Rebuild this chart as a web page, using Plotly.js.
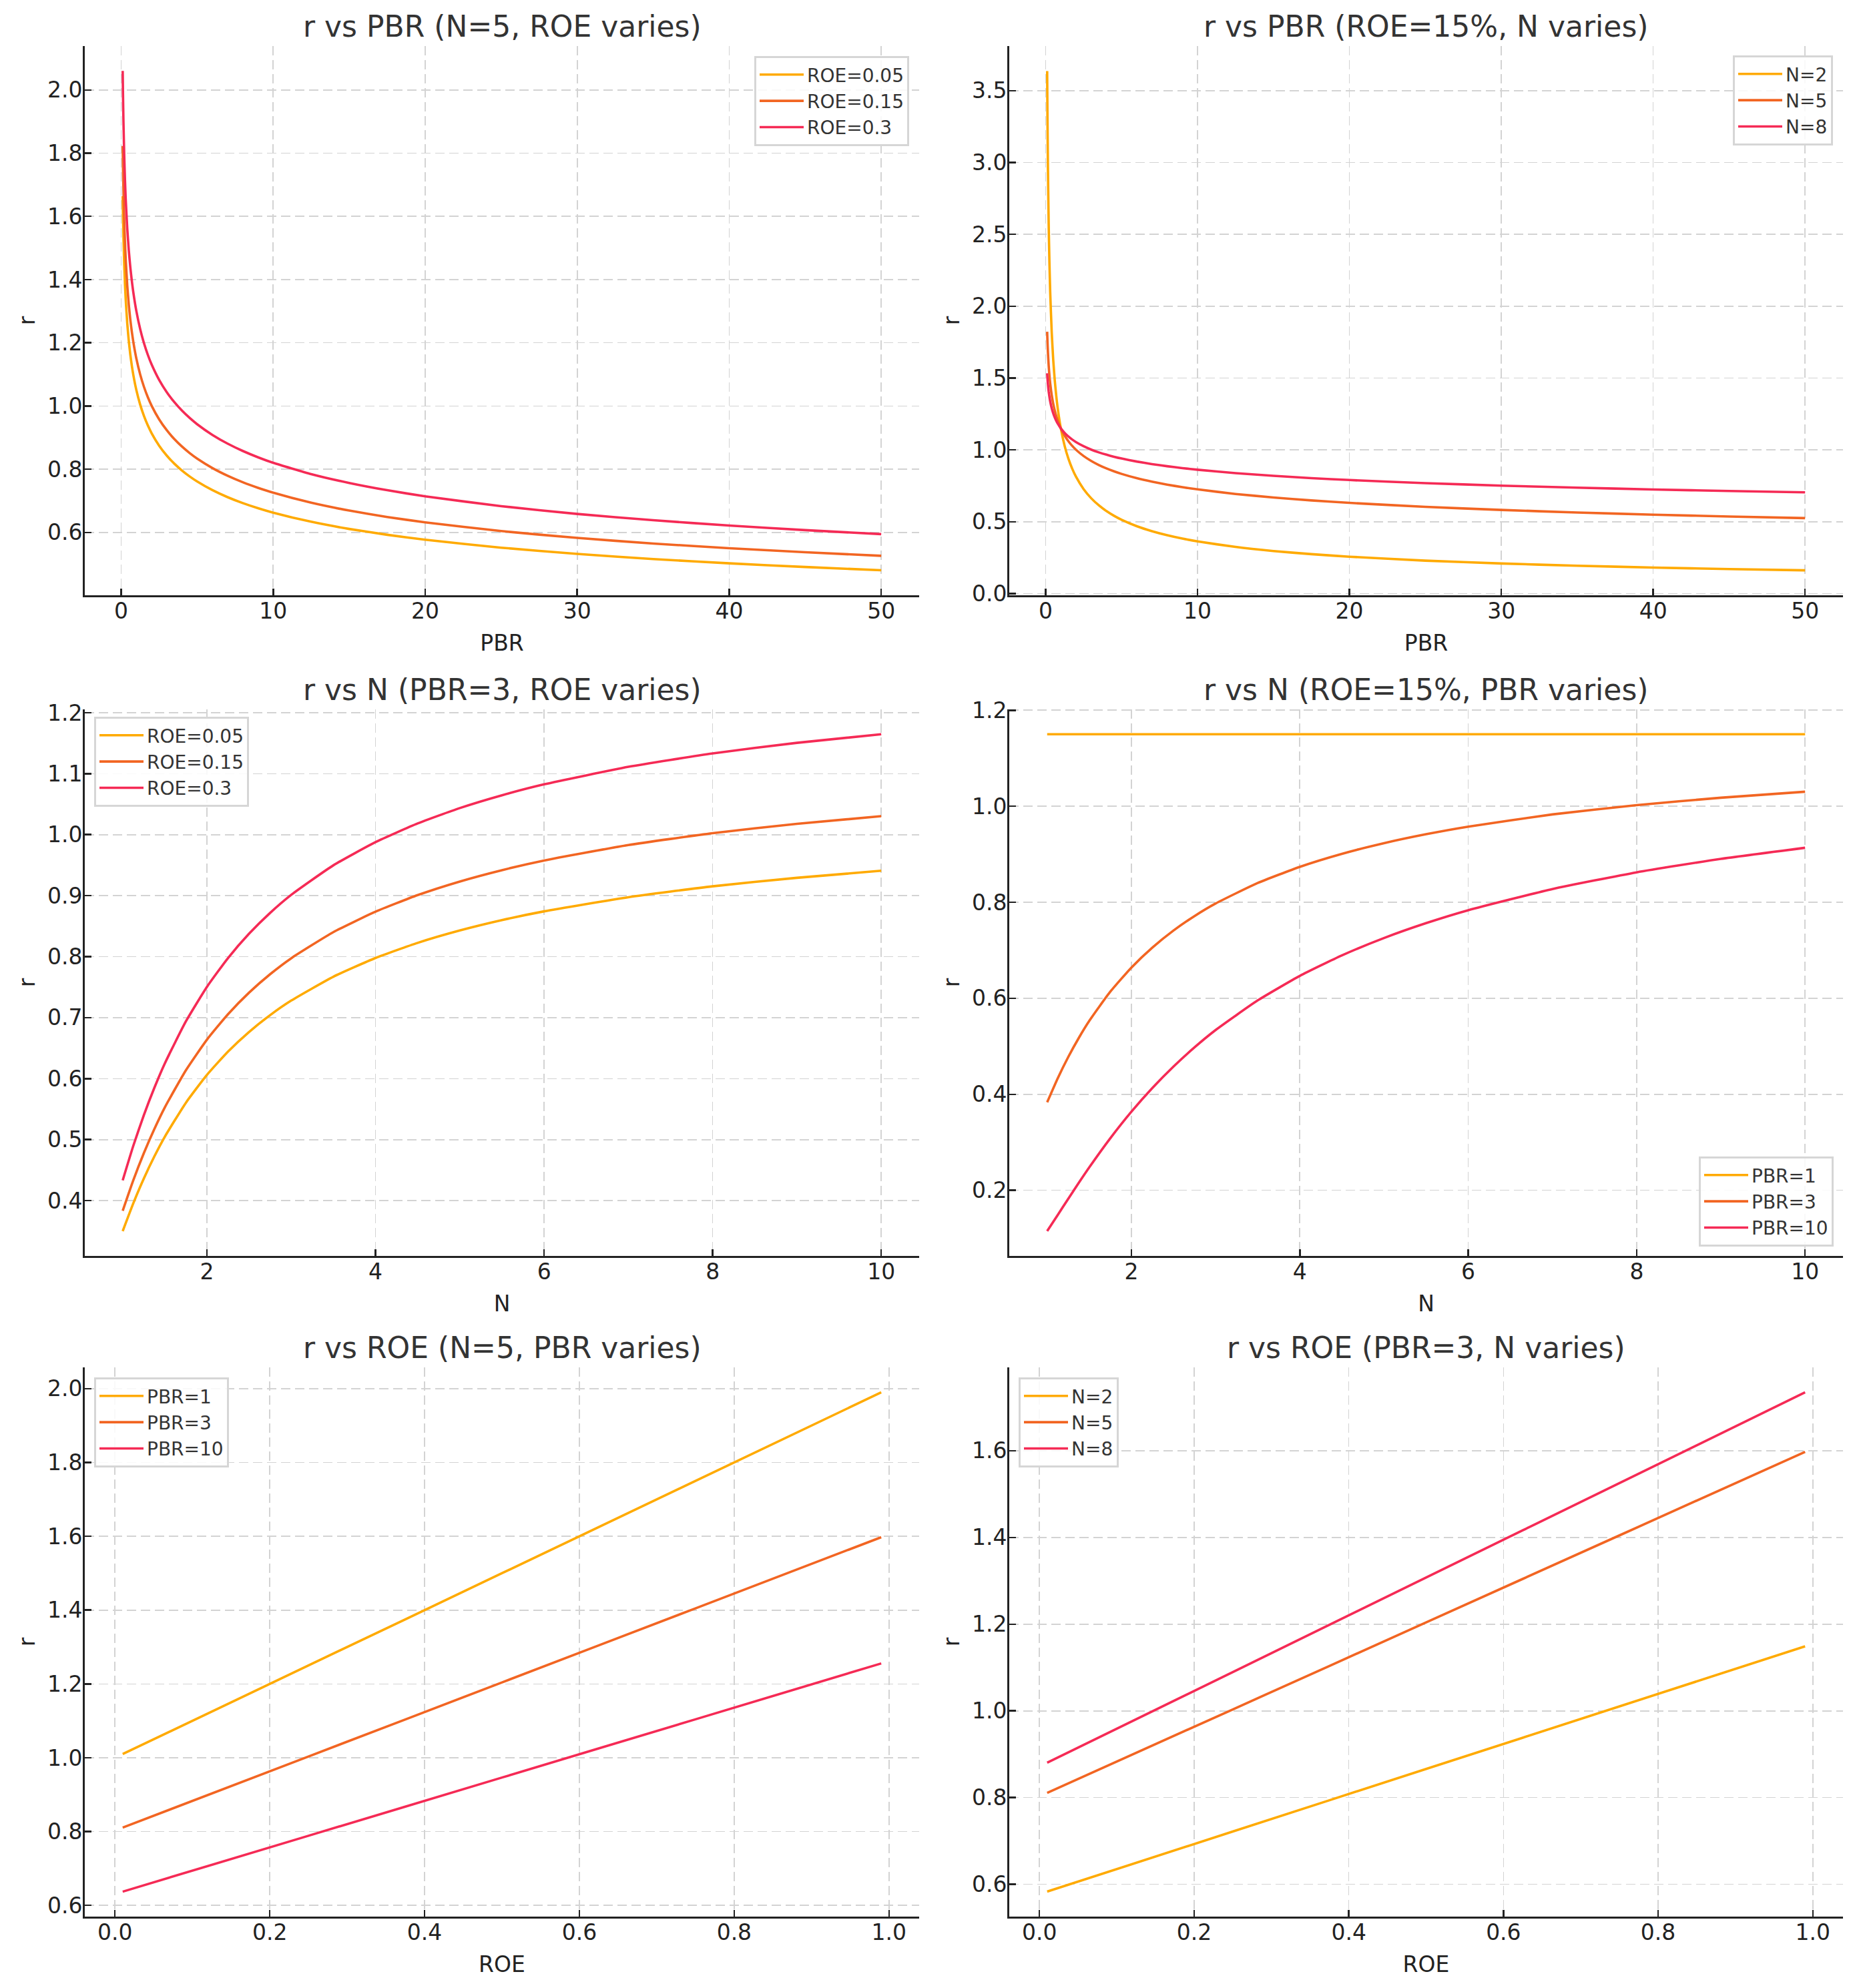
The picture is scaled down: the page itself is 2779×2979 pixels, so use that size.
<!DOCTYPE html>
<html>
<head>
<meta charset="utf-8">
<script src="https://cdn.plot.ly/plotly-3.0.1.min.js"></script>
<style>html,body{margin:0;padding:0;background:#fff;}</style>
</head>
<body>
<div id="chart" style="width:2779px;height:2979px;"></div>
<script>
// ---- Data ----
const pbrX = [0.1, 0.12, 0.15, 0.2, 0.25, 0.3, 0.4, 0.5, 0.6, 0.7, 0.8, 1, 1.25, 1.5, 1.75, 2, 2.5, 3, 3.5, 4, 4.5, 5, 6, 7, 8, 9, 10, 12.5, 15, 17.5, 20, 25, 30, 35, 40, 45, 50];

// Panel 1: r vs PBR (N=5), ROE varies
const p1_roe005 = [1.6641, 1.6046, 1.5345, 1.4487, 1.3855, 1.3359, 1.2612, 1.2061, 1.1629, 1.1276, 1.0979, 1.05, 1.0042, 0.9682, 0.9388, 0.9141, 0.8742, 0.8429, 0.8173, 0.7958, 0.7772, 0.7610, 0.7338, 0.7115, 0.6927, 0.6766, 0.6625, 0.6336, 0.6109, 0.5924, 0.5767, 0.5516, 0.5318, 0.5157, 0.5021, 0.4904, 0.4802];
const p1_roe015 = [1.8226, 1.7574, 1.6806, 1.5867, 1.5174, 1.4631, 1.3813, 1.3210, 1.2737, 1.2350, 1.2025, 1.15, 1.0998, 1.0604, 1.0282, 1.0011, 0.9574, 0.9232, 0.8951, 0.8715, 0.8512, 0.8335, 0.8037, 0.7793, 0.7587, 0.7411, 0.7256, 0.6939, 0.6691, 0.6488, 0.6317, 0.6041, 0.5825, 0.5648, 0.5499, 0.5371, 0.5259];
const p1_roe030 = [2.0604, 1.9866, 1.8998, 1.7936, 1.7154, 1.6539, 1.5615, 1.4933, 1.4398, 1.3961, 1.3593, 1.30, 1.2433, 1.1987, 1.1623, 1.1317, 1.0823, 1.0436, 1.0119, 0.9852, 0.9623, 0.9422, 0.9085, 0.8809, 0.8577, 0.8377, 0.8202, 0.7844, 0.7564, 0.7334, 0.7141, 0.6829, 0.6584, 0.6385, 0.6216, 0.6072, 0.5945];

// Panel 2: r vs PBR (ROE=15%), N varies
const p2_n2 = [3.6366, 3.3198, 2.9693, 2.5715, 2.3000, 2.0996, 1.8183, 1.6263, 1.4846, 1.3745, 1.2857, 1.15, 1.0286, 0.9390, 0.8693, 0.8132, 0.7273, 0.6640, 0.6147, 0.5750, 0.5421, 0.5143, 0.4695, 0.4347, 0.4066, 0.3833, 0.3637, 0.3253, 0.2969, 0.2749, 0.2572, 0.2300, 0.2100, 0.1944, 0.1818, 0.1714, 0.1626];
const p2_n5 = [1.8226, 1.7574, 1.6806, 1.5867, 1.5174, 1.4631, 1.3813, 1.3210, 1.2737, 1.2350, 1.2025, 1.15, 1.0998, 1.0604, 1.0282, 1.0011, 0.9574, 0.9232, 0.8951, 0.8715, 0.8512, 0.8335, 0.8037, 0.7793, 0.7587, 0.7411, 0.7256, 0.6939, 0.6691, 0.6488, 0.6317, 0.6041, 0.5825, 0.5648, 0.5499, 0.5371, 0.5259];
const p2_n8 = [1.5336, 1.4990, 1.4577, 1.4063, 1.3676, 1.3368, 1.2896, 1.2541, 1.2258, 1.2024, 1.1825, 1.15, 1.1184, 1.0932, 1.0723, 1.0546, 1.0256, 1.0024, 0.9833, 0.9670, 0.9529, 0.9404, 0.9192, 0.9017, 0.8868, 0.8738, 0.8624, 0.8387, 0.8198, 0.8041, 0.7908, 0.7690, 0.7517, 0.7374, 0.7252, 0.7146, 0.7052];

const nX = [1, 1.125, 1.25, 1.375, 1.5, 1.75, 2, 2.25, 2.5, 2.75, 3, 3.5, 4, 4.5, 5, 5.5, 6, 7, 8, 9, 10];

// Panel 3: r vs N (PBR=3), ROE varies
const p3_roe005 = [0.3500, 0.3954, 0.4360, 0.4723, 0.5048, 0.5605, 0.6062, 0.6444, 0.6766, 0.7042, 0.7280, 0.7671, 0.7978, 0.8226, 0.8429, 0.8599, 0.8743, 0.8975, 0.9153, 0.9293, 0.9408];
const p3_roe015 = [0.3833, 0.4331, 0.4775, 0.5172, 0.5529, 0.6138, 0.6640, 0.7057, 0.7411, 0.7713, 0.7974, 0.8402, 0.8738, 0.9009, 0.9232, 0.9418, 0.9576, 0.9830, 1.0024, 1.0178, 1.0303];
const p3_roe030 = [0.4333, 0.4896, 0.5398, 0.5847, 0.6250, 0.6939, 0.7506, 0.7978, 0.8377, 0.8719, 0.9014, 0.9498, 0.9878, 1.0184, 1.0436, 1.0646, 1.0825, 1.1112, 1.1332, 1.1506, 1.1647];

// Panel 4: r vs N (ROE=15%), PBR varies
const p4_pbr1 = [1.15, 1.15, 1.15, 1.15, 1.15, 1.15, 1.15, 1.15, 1.15, 1.15, 1.15, 1.15, 1.15, 1.15, 1.15, 1.15, 1.15, 1.15, 1.15, 1.15, 1.15];
const p4_pbr3 = [0.3833, 0.4331, 0.4775, 0.5172, 0.5529, 0.6138, 0.6640, 0.7057, 0.7411, 0.7713, 0.7974, 0.8402, 0.8738, 0.9009, 0.9232, 0.9418, 0.9576, 0.9830, 1.0024, 1.0178, 1.0303];
const p4_pbr10 = [0.1150, 0.1485, 0.1823, 0.2155, 0.2478, 0.3085, 0.3637, 0.4133, 0.4578, 0.4978, 0.5338, 0.5956, 0.6467, 0.6894, 0.7256, 0.7566, 0.7835, 0.8276, 0.8624, 0.8904, 0.9135];

const roeX = [0.01, 0.25, 0.5, 0.75, 0.99];

// Panel 5: r vs ROE (N=5), PBR varies
const p5_pbr1 = [1.01, 1.25, 1.50, 1.75, 1.99];
const p5_pbr3 = [0.8108, 1.0034, 1.2041, 1.4048, 1.5975];
const p5_pbr10 = [0.6373, 0.7887, 0.9464, 1.1042, 1.2556];

// Panel 6: r vs ROE (PBR=3), N varies
const p6_n2 = [0.5831, 0.7217, 0.8660, 1.0104, 1.1489];
const p6_n5 = [0.8108, 1.0034, 1.2041, 1.4048, 1.5975];
const p6_n8 = [0.8804, 1.0896, 1.3075, 1.5255, 1.7347];

const titles = ["r vs PBR (N=5, ROE varies)", "r vs PBR (ROE=15%, N varies)",
                "r vs N (PBR=3, ROE varies)", "r vs N (ROE=15%, PBR varies)",
                "r vs ROE (N=5, PBR varies)", "r vs ROE (PBR=3, N varies)"];
const xLabels = ["PBR", "PBR", "N", "N", "ROE", "ROE"];

// ---- Style ----
const COLORS = ["#FFAA00", "#F26522", "#F52A55"];
const FONT = "DejaVu Sans, Liberation Sans, sans-serif";

function tr(x, y, name, idx, ax, leg) {
  return {
    type: "scatter", mode: "lines", x: x, y: y, name: name,
    line: {color: COLORS[idx], width: 3.6, shape: "spline", smoothing: 0.5},
    xaxis: "x" + (ax === 1 ? "" : ax), yaxis: "y" + (ax === 1 ? "" : ax),
    legend: leg, showlegend: true, hoverinfo: "skip"
  };
}

const data = [
  tr(pbrX, p1_roe005, "ROE=0.05", 0, 1, "legend"),
  tr(pbrX, p1_roe015, "ROE=0.15", 1, 1, "legend"),
  tr(pbrX, p1_roe030, "ROE=0.3", 2, 1, "legend"),
  tr(pbrX, p2_n2, "N=2", 0, 2, "legend2"),
  tr(pbrX, p2_n5, "N=5", 1, 2, "legend2"),
  tr(pbrX, p2_n8, "N=8", 2, 2, "legend2"),
  tr(nX, p3_roe005, "ROE=0.05", 0, 3, "legend3"),
  tr(nX, p3_roe015, "ROE=0.15", 1, 3, "legend3"),
  tr(nX, p3_roe030, "ROE=0.3", 2, 3, "legend3"),
  tr(nX, p4_pbr1, "PBR=1", 0, 4, "legend4"),
  tr(nX, p4_pbr3, "PBR=3", 1, 4, "legend4"),
  tr(nX, p4_pbr10, "PBR=10", 2, 4, "legend4"),
  tr(roeX, p5_pbr1, "PBR=1", 0, 5, "legend5"),
  tr(roeX, p5_pbr3, "PBR=3", 1, 5, "legend5"),
  tr(roeX, p5_pbr10, "PBR=10", 2, 5, "legend5"),
  tr(roeX, p6_n2, "N=2", 0, 6, "legend6"),
  tr(roeX, p6_n5, "N=5", 1, 6, "legend6"),
  tr(roeX, p6_n8, "N=8", 2, 6, "legend6")
];

const W = 2779, H = 2979;
const colX = [[127 / W, 1377 / W], [1512 / W, 2761 / W]];
const rowY = [[1 - 892 / H, 1 - 69 / H], [1 - 1882 / H, 1 - 1063 / H], [1 - 2872 / H, 1 - 2049 / H]];

const xRanges = [[-2.395, 52.495], [-2.395, 52.495], [0.55, 10.45], [0.55, 10.45], [-0.039, 1.039], [-0.039, 1.039]];
const yRanges = [[0.401, 2.139], [-0.0111, 3.8103], [0.3093, 1.2054], [0.0633, 1.2018], [0.5697, 2.0576], [0.5255, 1.7923]];
const xTicks = [[0, 10, 20, 30, 40, 50], [0, 10, 20, 30, 40, 50], [2, 4, 6, 8, 10], [2, 4, 6, 8, 10],
                [0, 0.2, 0.4, 0.6, 0.8, 1.0], [0, 0.2, 0.4, 0.6, 0.8, 1.0]];
const xFmt = ["d", "d", "d", "d", ".1f", ".1f"];
const yDtick = [0.2, 0.5, 0.1, 0.2, 0.2, 0.2];

function axisBase() {
  return {
    showline: true, linecolor: "#222", linewidth: 3, mirror: false,
    ticks: "inside", ticklen: 10, tickwidth: 2.5, tickcolor: "#222",
    showgrid: true, gridcolor: "#d3d3d3", gridwidth: 1.6, griddash: "14px,7px",
    zeroline: false, tickfont: {family: FONT, size: 33, color: "#222"}
  };
}

const layout = {
  width: W, height: H,
  margin: {l: 0, r: 0, t: 0, b: 0},
  paper_bgcolor: "#ffffff", plot_bgcolor: "#ffffff",
  font: {family: FONT, color: "#333"},
  annotations: []
};

for (let i = 0; i < 6; i++) {
  const k = i + 1;
  const sx = k === 1 ? "" : String(k);
  const col = i % 2, row = Math.floor(i / 2);
  const xa = axisBase();
  Object.assign(xa, {
    domain: colX[col], range: xRanges[i], anchor: "y" + sx,
    tickmode: "array", tickvals: xTicks[i], tickformat: xFmt[i],
    ticklabelstandoff: -8,
    title: {text: xLabels[i], font: {family: FONT, size: 33, color: "#222"}, standoff: 19}
  });
  const ya = axisBase();
  Object.assign(ya, {
    domain: rowY[row], range: yRanges[i], anchor: "x" + sx,
    tickmode: "linear", tick0: 0, dtick: yDtick[i], tickformat: ".1f",
    ticklabelstandoff: -6,
    title: {text: "r", font: {family: FONT, size: 33, color: "#222"}, standoff: 9}
  });
  layout["xaxis" + sx] = xa;
  layout["yaxis" + sx] = ya;
  layout.annotations.push({
    text: titles[i], xref: "x" + sx + " domain", yref: "y" + sx + " domain",
    x: 0.5, y: 1, xanchor: "center", yanchor: "bottom", yshift: 2,
    showarrow: false, font: {family: FONT, size: 44, color: "#333"}
  });
}

function legendBox(x, y, xa, ya) {
  return {
    x: x, y: y, xref: "paper", yref: "paper", xanchor: xa, yanchor: ya,
    bgcolor: "rgba(255,255,255,0.85)", bordercolor: "#d6d6d6", borderwidth: 3,
    font: {family: FONT, size: 28, color: "#333"}, itemwidth: 66,
    tracegroupgap: 0
  };
}
layout.legend = legendBox(1362 / W, 1 - 84 / H, "right", "top");
layout.legend2 = legendBox(2746 / W, 1 - 83 / H, "right", "top");
layout.legend3 = legendBox(141 / W, 1 - 1074 / H, "left", "top");
layout.legend4 = legendBox(2747 / W, 1 - 1868 / H, "right", "bottom");
layout.legend5 = legendBox(141 / W, 1 - 2064 / H, "left", "top");
layout.legend6 = legendBox(1526 / W, 1 - 2064 / H, "left", "top");

Plotly.newPlot("chart", data, layout, {displayModeBar: false, staticPlot: true});
</script>
</body>
</html>
